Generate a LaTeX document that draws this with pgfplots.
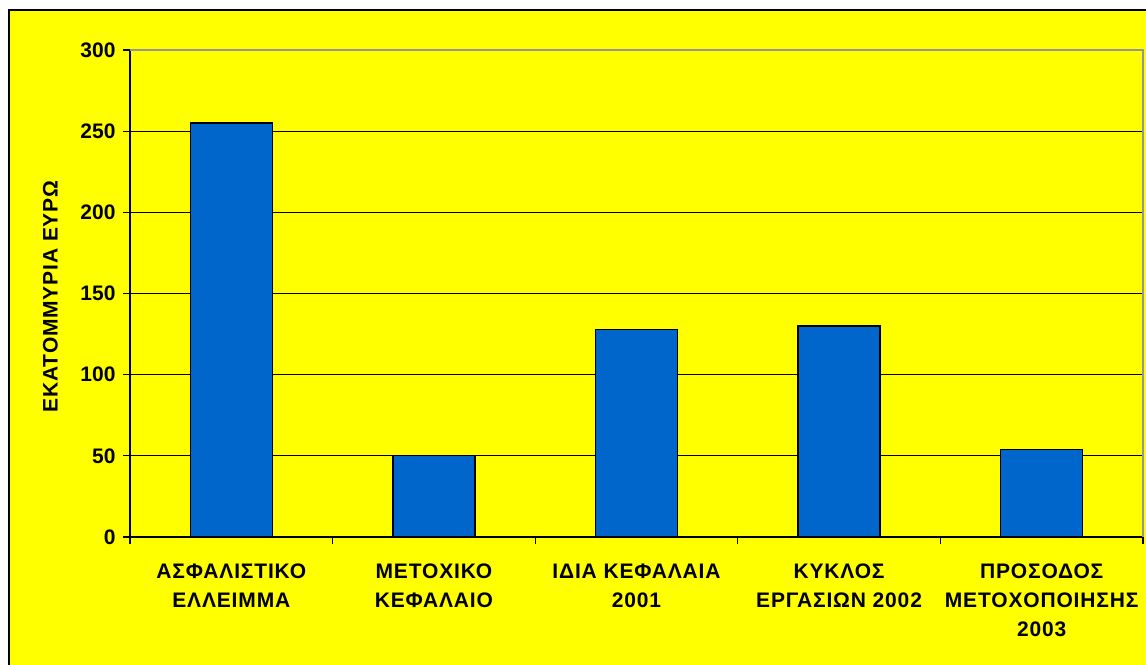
\documentclass[border=0pt]{standalone}
\usepackage{fontspec}
\setmainfont{Liberation Sans}[LetterSpace=4]
\newfontfamily\tickfont{Liberation Sans}
\usepackage{pgfplots}
\pgfplotsset{compat=1.18}
\definecolor{bgyellow}{RGB}{255,255,0}
\definecolor{barblue}{RGB}{0,102,204}
\definecolor{bordergray}{RGB}{150,150,150}
\begin{document}
\begin{tikzpicture}
\path[use as bounding box] (0bp,0bp) rectangle (1146bp,665bp);
\fill[white] (0bp,0bp) rectangle (1146bp,665bp);
\fill[bgyellow] (9bp,0bp) rectangle (1146bp,655bp);
\draw[black, line width=2bp] (9bp,0bp) -- (9bp,655bp) -- (1146bp,655bp);
\begin{axis}[
  at={(130bp,128bp)}, anchor=south west,
  scale only axis, width=1013bp, height=487bp,
  xmin=-0.5, xmax=4.5, ymin=0, ymax=300,
  axis x line*=bottom, axis y line*=left,
  axis line style={black, line width=1.5bp},
  ytick={0,50,...,300},
  ymajorgrids, grid style={black, line width=0.9bp},
  xtick={0,1,2,3,4},
  xticklabels={{ΑΣΦΑΛΙΣΤΙΚΟ\\ΕΛΛΕΙΜΜΑ},{ΜΕΤΟΧΙΚΟ\\ΚΕΦΑΛΑΙΟ},{ΙΔΙΑ ΚΕΦΑΛΑΙΑ\\2001},{ΚΥΚΛΟΣ\\ΕΡΓΑΣΙΩΝ 2002},{ΠΡΟΣΟΔΟΣ\\ΜΕΤΟΧΟΠΟΙΗΣΗΣ\\2003}},
  minor xtick={-0.5,0.5,1.5,2.5,3.5,4.5},
  tick align=outside,
  major tick length=7bp, minor tick length=7bp,
  major x tick style={draw=none},
  minor tick style={black, line width=1.2bp},
  ytick style={black, line width=1.2bp},
  /pgf/number format/assume math mode=true,
  yticklabel style={font=\tickfont\fontsize{21bp}{24bp}\selectfont\bfseries, xshift=-4bp},
  xticklabel style={font=\fontsize{21bp}{29bp}\selectfont\bfseries, align=center, yshift=-16bp},
  ylabel={ΕΚΑΤΟΜΜΥΡΙΑ ΕΥΡΩ},
  ylabel style={font=\fontsize{21bp}{24bp}\selectfont\bfseries, at={(axis description cs:-0.0785,0.494)}, anchor=center},
  ybar, bar width=82bp,
  clip=false,
]
\draw[bordergray, line width=1.5bp] (rel axis cs:0,1) -- (rel axis cs:1,1) -- (rel axis cs:1,0);
\addplot[fill=barblue, draw=black, line width=1.3bp] coordinates {(0,255) (1,50) (2,128) (3,130) (4,54)};
\end{axis}
\end{tikzpicture}
\end{document}
